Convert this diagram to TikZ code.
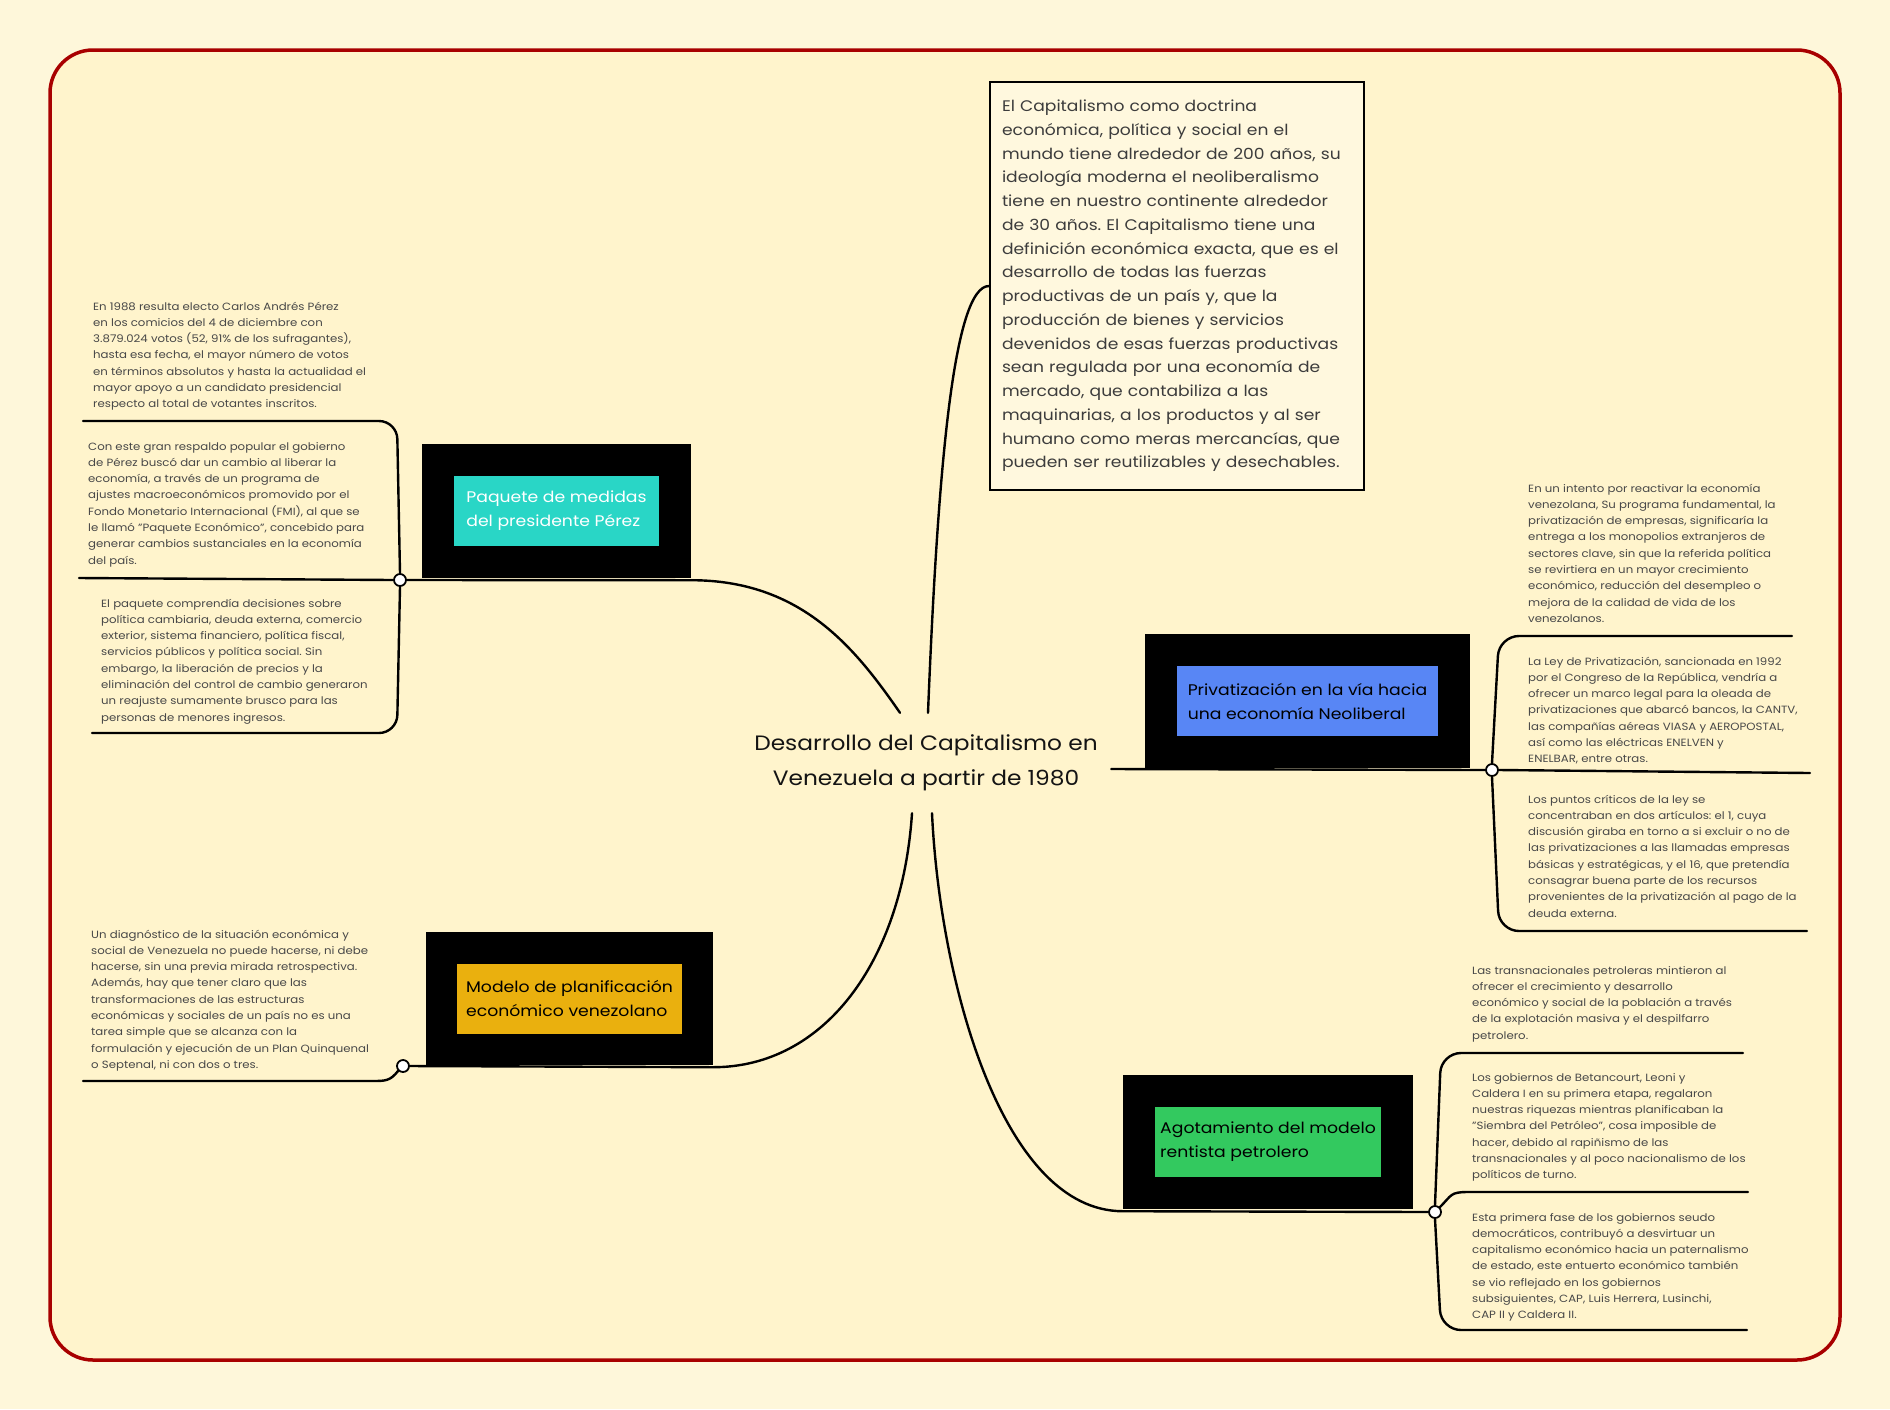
\documentclass[tikz,border=0pt]{standalone}
\usepackage{fontspec}
\setmainfont[FakeStretch=1.12]{Poppins}
\frenchspacing
\definecolor{bgout}{RGB}{254,247,218}
\definecolor{bgin}{RGB}{255,244,204}
\definecolor{framered}{RGB}{168,0,0}
\definecolor{capfill}{RGB}{255,248,222}
\definecolor{notetxt}{RGB}{72,72,72}
\definecolor{captxt}{RGB}{60,60,60}
\definecolor{cteal}{RGB}{41,214,198}
\definecolor{cblue}{RGB}{88,134,245}
\definecolor{cgreen}{RGB}{51,201,95}
\definecolor{corange}{RGB}{234,176,14}
\newcommand\notebody[1]{\parbox[t]{360pt}{\fontsize{10.5}{16.3}\selectfont\raggedright\frenchspacing #1}}
\begin{document}
\begin{tikzpicture}[x=1pt,y=-1pt,
  branch/.style={line width=2.4pt, line cap=round},
  dot/.style={circle, draw, line width=1.8pt, fill=white, inner sep=0pt, minimum size=12pt},
  blackbox/.style={fill=black, inner sep=0pt, minimum height=134pt},
  topicbox/.style={inner sep=0pt, minimum height=70pt, align=left, font=\fontsize{15.4}{24}\selectfont},
  note/.style={anchor=base west, inner sep=0pt, text=notetxt}]
\useasboundingbox (0,0) rectangle (1890,1409);
\fill[bgout] (0,0) rectangle (1890,1409);
\draw[framered, line width=3.5pt, fill=bgin, rounded corners=43pt] (50,50) rectangle (1840,1360);

% central topic
\node (root) [minimum width=370pt, minimum height=100pt, inner sep=0pt, align=center,
  font=\fontsize{20.8}{35}\selectfont, text={rgb,255:red,20;green,20;blue,20}] at (926,763)
  {Desarrollo del Capitalismo en\\Venezuela a partir de 1980};

% top text box
\node (cap) [draw, line width=2pt, fill=capfill, minimum width=374pt, minimum height=408pt,
  text width=350pt, align=left, inner sep=0pt, font=\fontsize{15.3}{23.75}\selectfont, text=captxt]
  at (1177,286) {El Capitalismo como doctrina\\
económica, política y social en el\\
mundo tiene alrededor de 200 años, su\\
ideología moderna el neoliberalismo\\
tiene en nuestro continente alrededor\\
de 30 años. El Capitalismo tiene una\\
definición económica exacta, que es el\\
desarrollo de todas las fuerzas\\
productivas de un país y, que la\\
producción de bienes y servicios\\
devenidos de esas fuerzas productivas\\
sean regulada por una economía de\\
mercado, que contabiliza a las\\
maquinarias, a los productos y al ser\\
humano como meras mercancías, que\\
pueden ser reutilizables y desechables.};

% main topics
\node (pqb) [blackbox, minimum width=269pt] at (556.5,511) {};
\node (pq) [topicbox, fill=cteal, text=white, minimum width=205pt] at (pqb) {Paquete de medidas\\del presidente Pérez};
\node (mob) [blackbox, minimum width=287pt, minimum height=133pt] at (569.5,998.5) {};
\node (mo) [topicbox, fill=corange, text=black, minimum width=225pt] at (mob) {Modelo de planificación\\económico venezolano};
\node (prb) [blackbox, minimum width=325pt] at (1307.5,701) {};
\node (pr) [topicbox, fill=cblue, text=black, minimum width=261pt] at (prb) {Privatización en la vía hacia\\una economía Neoliberal};
\node (agb) [blackbox, minimum width=290pt] at (1268,1142) {};
\node (ag) [topicbox, fill=cgreen, text=black, minimum width=226pt] at (agb) {Agotamiento del modelo\\rentista petrolero};

% junction dots
\node (cp) [dot] at (400,580) {};
\node (cm) [dot] at (403,1066) {};
\node (cr) [dot] at (1492,770) {};
\node (ca) [dot] at (1435,1212) {};

% underline ends
\coordinate (p1) at (83,421);
\coordinate (p2) at (79,578);
\coordinate (p3) at (92,733);
\coordinate (m1) at (83,1081);
\coordinate (r1) at (1792,636);
\coordinate (r2) at (1810,773);
\coordinate (r3) at (1807,931);
\coordinate (a1) at (1743,1053);
\coordinate (a2) at (1748,1192);
\coordinate (a3) at (1747,1330);

% main branches
\draw[branch] ([xshift=-26pt]root.north) .. controls +(-45,-65) and +(110,0) .. ([yshift=-2pt]pqb.south east) -- (cp.east);
\draw[branch] ([xshift=2pt]root.north) .. controls +(10,-250) and +(-35,0) .. (cap.west);
\draw[branch] ([yshift=-6pt]root.east) -- (cr.west);
\draw[branch] ([xshift=-14pt]root.south) .. controls +(-10,150) and +(110,0) .. ([yshift=-2pt]mob.south east) -- (cm.east);
\draw[branch] ([xshift=6pt]root.south) .. controls +(8,170) and +(-120,0) .. ([yshift=-2pt]agb.south west) -- (ca.west);

% sub branches
\draw[branch, rounded corners=18pt] (cp.north) -- (397,421) -- (p1);
\draw[branch] (cp.west) -- (p2);
\draw[branch, rounded corners=18pt] (cp.south) -- (397,733) -- (p3);
\draw[branch] (cm.south west) .. controls +(-8,10) and +(14,0) .. (372,1081) -- (m1);
\draw[branch, rounded corners=20pt] (cr.north) -- (1499,636) -- (r1);
\draw[branch] (cr.east) -- (r2);
\draw[branch, rounded corners=20pt] (cr.south) -- (1499,931) -- (r3);
\draw[branch, rounded corners=20pt] (ca.north) -- (1441,1053) -- (a1);
\draw[branch] (ca.north east) .. controls +(12,-12) and +(-18,0) .. (1468,1192) -- (a2);
\draw[branch, rounded corners=20pt] (ca.south) -- (1441,1330) -- (a3);

% notes
\node (n1) [note] at (93,310) {\notebody{En 1988 resulta electo Carlos Andrés Pérez\\
en los comicios del 4 de diciembre con\\
3.879.024 votos (52, 91\% de los sufragantes),\\
hasta esa fecha, el mayor número de votos\\
en términos absolutos y hasta la actualidad el\\
mayor apoyo a un candidato presidencial\\
respecto al total de votantes inscritos.}};
\node (n2) [note] at (88,450) {\notebody{Con este gran respaldo popular el gobierno\\
de Pérez buscó dar un cambio al liberar la\\
economía, a través de un programa de\\
ajustes macroeconómicos promovido por el\\
Fondo Monetario Internacional (FMI), al que se\\
le llamó "Paquete Económico", concebido para\\
generar cambios sustanciales en la economía\\
del país.}};
\node (n3) [note] at (101,607) {\notebody{El paquete comprendía decisiones sobre\\
política cambiaria, deuda externa, comercio\\
exterior, sistema financiero, política fiscal,\\
servicios públicos y política social. Sin\\
embargo, la liberación de precios y la\\
eliminación del control de cambio generaron\\
un reajuste sumamente brusco para las\\
personas de menores ingresos.}};
\node (n4) [note] at (91,938) {\notebody{Un diagnóstico de la situación económica y\\
social de Venezuela no puede hacerse, ni debe\\
hacerse, sin una previa mirada retrospectiva.\\
Además, hay que tener claro que las\\
transformaciones de las estructuras\\
económicas y sociales de un país no es una\\
tarea simple que se alcanza con la\\
formulación y ejecución de un Plan Quinquenal\\
o Septenal, ni con dos o tres.}};
\node (n5) [note] at (1528,492) {\notebody{En un intento por reactivar la economía\\
venezolana, Su programa fundamental, la\\
privatización de empresas, significaría la\\
entrega a los monopolios extranjeros de\\
sectores clave, sin que la referida política\\
se revirtiera en un mayor crecimiento\\
económico, reducción del desempleo o\\
mejora de la calidad de vida de los\\
venezolanos.}};
\node (n6) [note] at (1528,665) {\notebody{La Ley de Privatización, sancionada en 1992\\
por el Congreso de la República, vendría a\\
ofrecer un marco legal para la oleada de\\
privatizaciones que abarcó bancos, la CANTV,\\
las compañías aéreas VIASA y AEROPOSTAL,\\
así como las eléctricas ENELVEN y\\
ENELBAR, entre otras.}};
\node (n7) [note] at (1528,803) {\notebody{Los puntos críticos de la ley se\\
concentraban en dos artículos: el 1, cuya\\
discusión giraba en torno a si excluir o no de\\
las privatizaciones a las llamadas empresas\\
básicas y estratégicas, y el 16, que pretendía\\
consagrar buena parte de los recursos\\
provenientes de la privatización al pago de la\\
deuda externa.}};
\node (n8) [note] at (1472,974) {\notebody{Las transnacionales petroleras mintieron al\\
ofrecer el crecimiento y desarrollo\\
económico y social de la población a través\\
de la explotación masiva y el despilfarro\\
petrolero.}};
\node (n9) [note] at (1472,1081) {\notebody{Los gobiernos de Betancourt, Leoni y\\
Caldera I en su primera etapa, regalaron\\
nuestras riquezas mientras planificaban la\\
"Siembra del Petróleo", cosa imposible de\\
hacer, debido al rapiñismo de las\\
transnacionales y al poco nacionalismo de los\\
políticos de turno.}};
\node (n10) [note] at (1472,1221) {\notebody{Esta primera fase de los gobiernos seudo\\
democráticos, contribuyó a desvirtuar un\\
capitalismo económico hacia un paternalismo\\
de estado, este entuerto económico también\\
se vio reflejado en los gobiernos\\
subsiguientes, CAP, Luis Herrera, Lusinchi,\\
CAP II y Caldera II.}};
\end{tikzpicture}
\end{document}
